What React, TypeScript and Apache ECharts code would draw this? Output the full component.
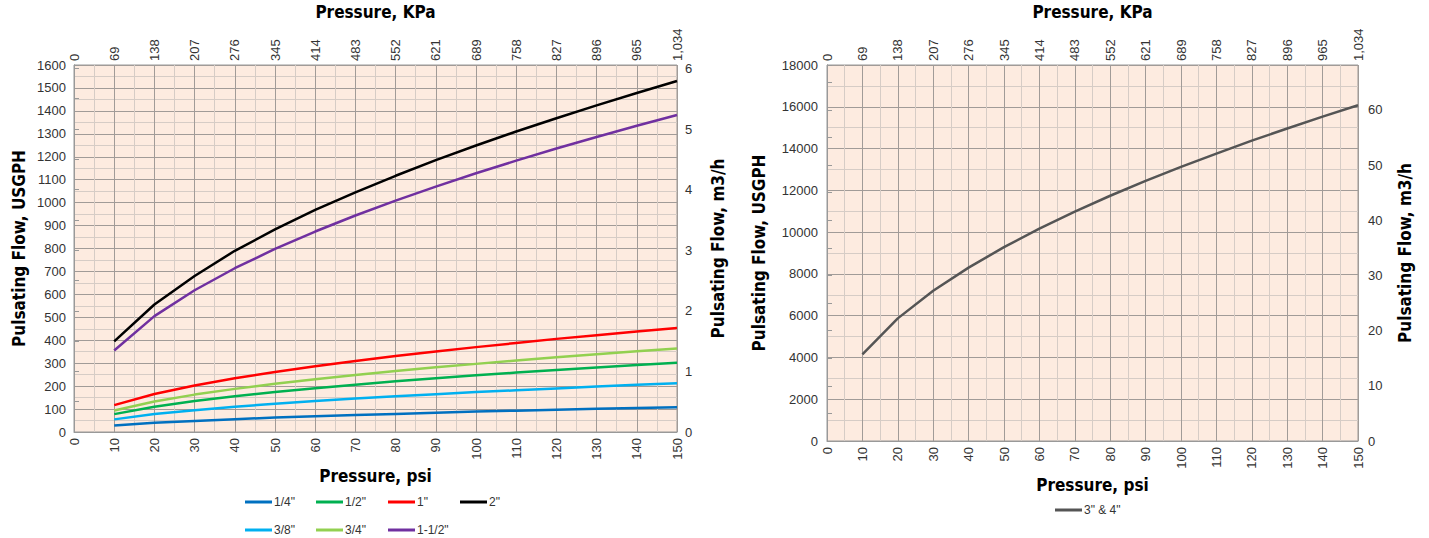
import React, { useEffect, useRef } from "react";
import * as echarts from "echarts";

const PSI = [10, 20, 30, 40, 50, 60, 70, 80, 90, 100, 110, 120, 130, 140, 150];
const KPA_LABELS = ["0", "69", "138", "207", "276", "345", "414", "483", "552", "621", "689", "758", "827", "896", "965", "1,034"];

const S_1_4 = [28, 40, 48, 56, 63, 69, 74, 79, 84, 89, 93, 97, 101, 105, 108];
const S_3_8 = [55, 78, 95, 110, 123, 135, 146, 156, 165, 174, 182, 190, 198, 206, 213];
const S_1_2 = [78, 110, 135, 156, 174, 191, 206, 221, 234, 247, 259, 270, 281, 292, 302];
const S_3_4 = [94, 133, 163, 188, 210, 230, 249, 266, 282, 297, 312, 326, 339, 352, 364];
const S_1 = [117, 166, 203, 234, 262, 287, 310, 331, 351, 370, 388, 406, 422, 438, 453];
const S_1_1_2 = [355, 505, 618, 714, 798, 874, 944, 1009, 1070, 1128, 1183, 1236, 1286, 1335, 1382];
const S_2 = [395, 556, 680, 790, 883, 968, 1045, 1117, 1185, 1249, 1310, 1368, 1424, 1478, 1530];
const S_3_4IN = [4150, 5870, 7190, 8300, 9280, 10170, 10980, 11740, 12450, 13120, 13760, 14380, 14960, 15530, 16070];

const GPH_PER_M3H = 264.172;

const LEFT_SERIES = [
  { name: '1/4"', color: "#0070c0", data: S_1_4 },
  { name: '1/2"', color: "#00b050", data: S_1_2 },
  { name: '1"', color: "#ff0000", data: S_1 },
  { name: '2"', color: "#000000", data: S_2 },
  { name: '3/8"', color: "#00b0f0", data: S_3_8 },
  { name: '3/4"', color: "#92d050", data: S_3_4 },
  { name: '1-1/2"', color: "#7030a0", data: S_1_1_2 },
];

const LEGEND_POS = [
  [245, 496], [316, 496], [388, 496], [460, 496],
  [245, 524], [316, 524], [388, 524],
];

const LABEL_FONT = "'Liberation Sans', Arial, Helvetica, sans-serif";
const NAME_FONT = "'Liberation Sans Narrow', 'DejaVu Sans Condensed', 'Liberation Sans', sans-serif";

export default function App() {
  const ref = useRef<HTMLDivElement>(null);
  useEffect(() => {
    document.body.style.margin = "0";
    const chart = echarts.init(ref.current!, null, { renderer: "svg" });

    const labelStyle = { color: "#333", fontSize: 13, fontFamily: LABEL_FONT };
    const nameStyle = { color: "#000", fontSize: 17, fontWeight: "bold" as const, fontFamily: NAME_FONT };
    const major = { show: true, lineStyle: { color: "#a19b98", width: 1 } };
    const minor = { show: true, lineStyle: { color: "#d6ccc6", width: 1 } };
    const plain = (v: number) => String(v);

    const xBottom = (gridIndex: number, gap: number) => ({
      type: "value",
      gridIndex,
      position: "bottom",
      min: 0,
      max: 150,
      interval: 10,
      name: "Pressure, psi",
      nameLocation: "middle",
      nameGap: gap,
      nameTextStyle: nameStyle,
      axisLine: { show: true, lineStyle: { color: "#999" } },
      axisTick: { show: false },
      axisLabel: { ...labelStyle, rotate: 90, margin: 6, formatter: plain },
      splitLine: major,
      minorTick: { show: false, splitNumber: 2 },
      minorSplitLine: minor,
    });
    const xTop = (gridIndex: number, gap: number) => ({
      type: "value",
      gridIndex,
      position: "top",
      min: 0,
      max: 150,
      interval: 10,
      name: "Pressure, KPa",
      nameLocation: "middle",
      nameGap: gap,
      nameTextStyle: nameStyle,
      axisLine: { show: false },
      axisTick: { show: false },
      axisLabel: {
        ...labelStyle,
        rotate: 90,
        margin: 4,
        formatter: (v: number) => KPA_LABELS[Math.round(v / 10)] ?? "",
      },
      splitLine: { show: false },
    });

    const option: any = {
      animation: false,
      grid: [
        { left: 74, top: 65, width: 603, height: 367, show: true, backgroundColor: "#fdebe0", borderColor: "#999", borderWidth: 1, containLabel: false, outerBoundsMode: "none" },
        { left: 827, top: 65, width: 531, height: 376, show: true, backgroundColor: "#fdebe0", borderColor: "#999", borderWidth: 1, containLabel: false, outerBoundsMode: "none" },
      ],
      xAxis: [xBottom(0, 31), xTop(0, 40), xBottom(1, 31), xTop(1, 42)],
      yAxis: [
        {
          type: "value",
          gridIndex: 0,
          position: "left",
          min: 0,
          max: 1600,
          interval: 100,
          name: "Pulsating Flow, USGPH",
          nameLocation: "middle",
          nameGap: 47,
          nameRotate: 90,
          nameTextStyle: nameStyle,
          axisLine: { show: true, lineStyle: { color: "#999" } },
          axisTick: { show: false },
          axisLabel: { ...labelStyle, margin: 8, formatter: plain },
          splitLine: major,
          minorTick: { show: false, splitNumber: 2 },
          minorSplitLine: minor,
        },
        {
          type: "value",
          gridIndex: 0,
          position: "right",
          min: 0,
          max: 1600 / GPH_PER_M3H,
          interval: 1,
          name: "Pulsating Flow, m3/h",
          nameLocation: "middle",
          nameGap: 32,
          nameRotate: 90,
          nameTextStyle: nameStyle,
          axisLine: { show: true, lineStyle: { color: "#999" } },
          axisTick: { show: true, length: 5, lineStyle: { color: "#999" } },
          minorTick: { show: true, splitNumber: 2, length: 5, lineStyle: { color: "#999" } },
          axisLabel: { ...labelStyle, margin: 8, showMaxLabel: false, formatter: (v: number) => (Number.isInteger(v) ? String(v) : "") },
          splitLine: { show: false },
        },
        {
          type: "value",
          gridIndex: 1,
          position: "left",
          min: 0,
          max: 18000,
          interval: 2000,
          name: "Pulsating Flow, USGPH",
          nameLocation: "middle",
          nameGap: 60,
          nameRotate: 90,
          nameTextStyle: nameStyle,
          axisLine: { show: true, lineStyle: { color: "#999" } },
          axisTick: { show: false },
          axisLabel: { ...labelStyle, margin: 9, formatter: plain },
          splitLine: major,
          minorTick: { show: false, splitNumber: 2 },
          minorSplitLine: minor,
        },
        {
          type: "value",
          gridIndex: 1,
          position: "right",
          min: 0,
          max: 18000 / GPH_PER_M3H,
          interval: 10,
          name: "Pulsating Flow, m3/h",
          nameLocation: "middle",
          nameGap: 38,
          nameRotate: 90,
          nameTextStyle: nameStyle,
          axisLine: { show: true, lineStyle: { color: "#999" } },
          axisTick: { show: true, length: 5, lineStyle: { color: "#999" } },
          minorTick: { show: true, splitNumber: 2, length: 5, lineStyle: { color: "#999" } },
          axisLabel: { ...labelStyle, margin: 10, showMaxLabel: false, formatter: (v: number) => (Number.isInteger(v) ? String(v) : "") },
          splitLine: { show: false },
        },
      ],
      legend: [
        ...LEFT_SERIES.map((s, i) => ({
          data: [s.name],
          left: LEGEND_POS[i][0],
          top: LEGEND_POS[i][1],
          icon: "rect",
          itemWidth: 27,
          itemHeight: 3,
          padding: 0,
          selectedMode: false,
          textStyle: { color: "#333", fontSize: 12, fontFamily: LABEL_FONT, padding: [0, 0, 0, -3] },
        })),
        {
          data: ['3" & 4"'],
          left: 1055,
          top: 504,
          icon: "rect",
          itemWidth: 27,
          itemHeight: 3,
          padding: 0,
          selectedMode: false,
          textStyle: { color: "#333", fontSize: 12, fontFamily: LABEL_FONT, padding: [0, 0, 0, -3] },
        },
      ],
      series: [
        ...LEFT_SERIES.map((s) => ({
          type: "line",
          name: s.name,
          xAxisIndex: 0,
          yAxisIndex: 0,
          color: s.color,
          symbol: "none",
          lineStyle: { width: 2.5, color: s.color },
          data: PSI.map((p, i) => [p, s.data[i]]),
        })),
        {
          type: "line",
          name: '3" & 4"',
          xAxisIndex: 2,
          yAxisIndex: 2,
          color: "#555555",
          symbol: "none",
          lineStyle: { width: 2.5, color: "#555555" },
          data: PSI.map((p, i) => [p, S_3_4IN[i]]),
        },
      ],
    };
    chart.setOption(option);
    return () => chart.dispose();
  }, []);
  return <div ref={ref} style={{ width: 1429, height: 538 }} />;
}
